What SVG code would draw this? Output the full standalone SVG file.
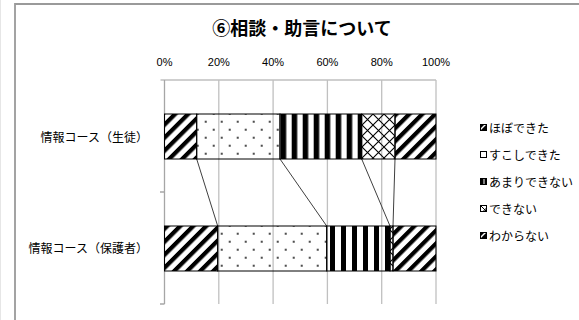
<svg xmlns="http://www.w3.org/2000/svg" width="579" height="320" viewBox="0 0 579 320">
<style>
.grid{stroke:#c0c0c0;stroke-width:1.3;fill:none}
.frame{stroke:#9a9a9a;stroke-width:1.8;fill:none}
.seg{stroke:#000;stroke-width:1}
.sl{stroke:#404040;stroke-width:1;fill:none}
.t{font-family:"Noto Sans CJK JP","Noto Sans",sans-serif;fill:#000}
.num{font-family:"Liberation Sans","Noto Sans",sans-serif;font-size:11px;fill:#000;text-anchor:middle}
.cat{font-size:12px;text-anchor:end}
.leg{font-size:12px}
.ico{stroke:#000;stroke-width:1}
</style>
<defs>
<pattern id="diag" patternUnits="userSpaceOnUse" width="9.2" height="9.2" patternTransform="rotate(45)">
<rect x="0" y="0" width="4.2" height="9.2" fill="#000"/>
</pattern>
<pattern id="dots" patternUnits="userSpaceOnUse" x="201.7" y="117.7" width="16" height="16">
<rect x="3.2" y="3.2" width="1.7" height="1.7" fill="#000"/>
<rect x="11.2" y="11.2" width="1.7" height="1.7" fill="#000"/>
</pattern>
<pattern id="vs1" patternUnits="userSpaceOnUse" x="291.7" y="0" width="11" height="10">
<rect x="0" y="0" width="5.5" height="10" fill="#000"/>
</pattern>
<pattern id="vs2" patternUnits="userSpaceOnUse" x="330" y="0" width="11" height="10">
<rect x="0" y="0" width="5" height="10" fill="#000"/>
</pattern>
<pattern id="cross" patternUnits="userSpaceOnUse" x="362" y="114" width="11" height="11">
<path d="M0 0L11 11M11 0L0 11" stroke="#000" stroke-width="1.1" fill="none"/>
</pattern>
</defs>
<rect x="0" y="0" width="579" height="320" fill="#fff"/>
<g id="frame">
<path class="frame" d="M15 320V4H579"/>
<path d="M0.5 0V320" stroke="#e6e6e6" stroke-width="1"/>
</g>
<g id="title">
<text class="t" x="302" y="35" font-size="18" font-weight="bold" text-anchor="middle">⑥相談・助言について</text>
</g>
<g id="value-axis">
<path class="grid" d="M160.5 80H436M218.8 80V304M273.1 80V304M327.4 80V304M381.7 80V304M436 80V304"/>
<path d="M164.5 80V304M160 192H164.5M160 304H164.5" stroke="#a6a6a6" stroke-width="1.3" fill="none"/>
<text class="num" x="164.5" y="66">0%</text>
<text class="num" x="218.8" y="66">20%</text>
<text class="num" x="273.1" y="66">40%</text>
<text class="num" x="327.4" y="66">60%</text>
<text class="num" x="381.7" y="66">80%</text>
<text class="num" x="436" y="66">100%</text>
</g>
<g id="category-labels">
<text class="t cat" x="148" y="141.6">情報コース（生徒）</text>
<text class="t cat" x="148" y="252.6">情報コース（保護者）</text>
</g>
<g id="series-lines">
<path class="sl" d="M196.7 159L217.7 226M280 159L326.7 226M361.7 159L390 226M395 159L393 226"/>
</g>
<g id="bar-student">
<rect class="seg" x="164.5" y="114" width="32.2" height="45" fill="url(#diag)"/>
<rect class="seg" x="196.7" y="114" width="83.3" height="45" fill="url(#dots)"/>
<rect class="seg" x="280" y="114" width="81.7" height="45" fill="url(#vs1)"/>
<rect class="seg" x="361.7" y="114" width="33.3" height="45" fill="url(#cross)"/>
<rect class="seg" x="395" y="114" width="41" height="45" fill="url(#diag)"/>
</g>
<g id="bar-parent">
<rect class="seg" x="164.5" y="226" width="53.2" height="45" fill="url(#diag)"/>
<rect class="seg" x="217.7" y="226" width="109" height="45" fill="url(#dots)"/>
<rect class="seg" x="326.7" y="226" width="63.3" height="45" fill="url(#vs2)"/>
<rect class="seg" x="390" y="226" width="3" height="45" fill="url(#cross)"/>
<rect class="seg" x="393" y="226" width="43" height="45" fill="url(#diag)"/>
</g>
<g id="legend">
<g id="leg-1">
<rect class="ico" x="480.5" y="124.5" width="6" height="6" fill="#fff"/>
<path d="M480.5 130.5L486.5 124.5V130.5Z" fill="#000"/>
<path d="M480.5 128.5L484.5 124.5H480.5Z" fill="#000"/>
<text class="t leg" x="489" y="132.6">ほぼできた</text>
</g>
<g id="leg-2">
<rect class="ico" x="480.5" y="151.5" width="6" height="6" fill="#fff"/>
<text class="t leg" x="489" y="159.6">すこしできた</text>
</g>
<g id="leg-3">
<rect class="ico" x="480.5" y="178.5" width="6" height="6" fill="#000"/>
<path d="M484 179V184" stroke="#fff" stroke-width="1"/>
<text class="t leg" x="489" y="187.1">あまりできない</text>
</g>
<g id="leg-4">
<rect class="ico" x="480.5" y="205.5" width="6" height="6" fill="#fff"/>
<path d="M480.5 205.5L486.5 211.5M483 211.5L486.5 208" stroke="#000" stroke-width="1"/>
<text class="t leg" x="489" y="213.6">できない</text>
</g>
<g id="leg-5">
<rect class="ico" x="480.5" y="232.5" width="6" height="6" fill="#fff"/>
<path d="M480.5 238.5L486.5 232.5V238.5Z" fill="#000"/>
<path d="M480.5 236.5L484.5 232.5H480.5Z" fill="#000"/>
<text class="t leg" x="489" y="240.6">わからない</text>
</g>
</g>
</svg>
